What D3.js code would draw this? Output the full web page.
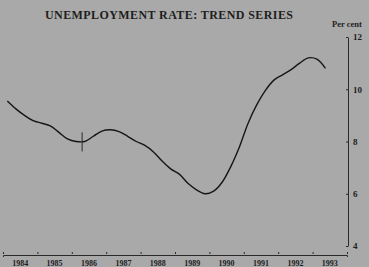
<!DOCTYPE html>
<html>
<head>
<meta charset="utf-8">
<script src="https://cdn.jsdelivr.net/npm/d3@7"></script>
<style>
  html, body { margin: 0; padding: 0; background: #a9a9a9; }
  svg { display: block; }
  text { font-family: "Liberation Serif", "DejaVu Serif", serif; fill: #1e1e1e; }
</style>
</head>
<body>
<svg id="chart" width="369" height="267"></svg>
<script>
// quarterly trend values, 1984 Q1 .. 1993 Q2
var startYear = 1984;
var rates = [
    9.55, 9.25, 9.0, 8.8,
    8.7, 8.6, 8.35, 8.1,
    8.0, 8.0, 8.2, 8.4,
    8.45, 8.38, 8.2, 8.0,
    7.85, 7.6, 7.25, 6.95,
    6.75, 6.4, 6.15, 6.0,
    6.1, 6.45, 7.05, 7.8,
    8.7, 9.4, 9.95, 10.35,
    10.55, 10.75, 11.0, 11.2,
    11.15, 10.8
];
var years = [1984, 1985, 1986, 1987, 1988, 1989, 1990, 1991, 1992, 1993];
var yTicks = [4, 6, 8, 10, 12];
var breakAt = 1986.3;   // series break marker

var svg = d3.select('#chart');

var x = d3.scaleLinear()
    .domain([1984, 1994])
    .range([3, 347]);
var y = d3.scaleLinear()
    .domain([4, 12])
    .range([246, 37]);

// title
svg.append('text')
    .attr('x', 169).attr('y', 19)
    .attr('text-anchor', 'middle')
    .style('font-size', '12px')
    .style('font-weight', 'bold')
    .attr('textLength', 248)
    .text('UNEMPLOYMENT RATE: TREND SERIES');

svg.append('text')
    .attr('x', 332).attr('y', 27)
    .style('font-size', '8.5px')
    .style('font-weight', 'bold')
    .text('Per cent');

// bottom axis
var xAxis = d3.axisBottom(x)
    .tickValues(d3.range(1984, 1995))
    .tickSize(2)
    .tickFormat('');
var gx = svg.append('g')
    .attr('transform', 'translate(0,255)')
    .call(xAxis);
gx.select('.domain').attr('stroke', '#2a2a2a').attr('stroke-width', 1);
gx.selectAll('.tick line').attr('stroke', '#2a2a2a').attr('transform', 'translate(0,-3)');

svg.append('g').selectAll('text')
    .data(years)
    .enter().append('text')
    .attr('x', d => x(d + 0.5))
    .attr('y', 266)
    .attr('text-anchor', 'middle')
    .style('font-size', '8px')
    .style('font-weight', 'bold')
    .text(d => d);

// right axis
var yAxis = d3.axisRight(y)
    .tickValues(yTicks)
    .tickSize(0)
    .tickPadding(5);
var gy = svg.append('g')
    .attr('transform', 'translate(348,0)')
    .call(yAxis);
gy.select('.domain').attr('stroke', '#2a2a2a').attr('stroke-width', 1);
gy.selectAll('.tick text')
    .style('font-family', '"Liberation Serif", serif')
    .style('font-size', '9px')
    .style('font-weight', 'bold')
    .attr('fill', '#1e1e1e');
gy.selectAll('.tick').append('line')
    .attr('x1', -2).attr('x2', 0)
    .attr('stroke', '#2a2a2a');

// trend line
var line = d3.line()
    .x((d, i) => x(startYear + (i + 0.5) / 4))
    .y(d => y(d))
    .curve(d3.curveCatmullRom);

svg.append('path')
    .datum(rates)
    .attr('fill', 'none')
    .attr('stroke', '#161616')
    .attr('stroke-width', 1.4)
    .attr('d', line);

// break marker
var qi = (breakAt - startYear) * 4 - 0.5;
var bv = rates[Math.floor(qi)] + (rates[Math.ceil(qi)] - rates[Math.floor(qi)]) * (qi - Math.floor(qi));
svg.append('line')
    .attr('x1', x(breakAt)).attr('x2', x(breakAt))
    .attr('y1', y(bv + 0.35)).attr('y2', y(bv - 0.38))
    .attr('stroke', '#2a2a2a')
    .attr('stroke-width', 1);
</script>
</body>
</html>
